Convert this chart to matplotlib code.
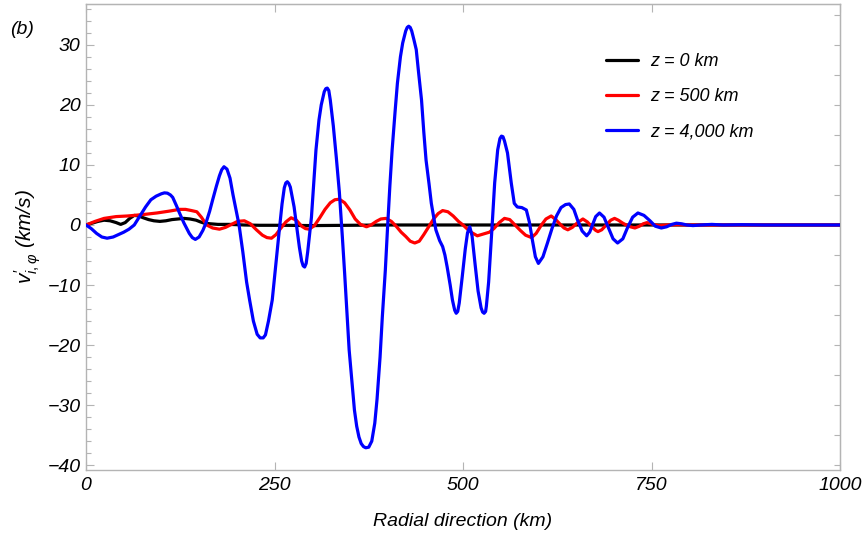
import matplotlib
matplotlib.use("Agg")
import matplotlib.pyplot as plt
from matplotlib.ticker import MultipleLocator
from matplotlib import font_manager

# ---------------- data ----------------
x_black = [0, 8, 16, 24, 32, 40, 46, 52, 58, 64, 70, 76, 83, 90, 98, 106, 114, 122, 130, 138,
           146, 152, 157, 165, 175, 190, 210, 230, 260, 300, 350, 400, 500, 1000]
y_black = [0, 0.3, 0.6, 0.8, 0.7, 0.4, 0.1, 0.4, 1.1, 1.6, 1.5, 1.2, 0.9, 0.7, 0.6, 0.7, 0.9, 1.0, 1.1, 1.0,
           0.8, 0.5, 0.3, 0.2, 0.1, 0.1, 0.0, -0.05, -0.05, -0.1, -0.05, 0.0, 0.0, 0.0]

x_red = [0, 12, 24, 40, 55, 64, 80, 94, 110, 124, 132, 140, 147, 153, 160, 168, 177, 185, 193, 201,
         210, 218, 226, 234, 240, 246, 252, 258, 265, 272, 279, 286, 291, 296, 303, 310, 317, 324, 330,
         336, 343, 350, 357, 364, 372, 378, 385, 391, 398, 405, 412, 418, 424, 430, 436, 442, 448, 455,
         461, 467, 473, 480, 487, 494, 500, 506, 512, 519, 527, 535, 541, 548, 555, 562, 569, 576, 583,
         591, 597, 604, 610, 617, 623, 629, 634, 639, 645, 652, 659, 665, 671, 676, 679, 684, 690, 696,
         701, 706, 712, 718, 722, 728, 734, 739, 744, 752, 760, 770, 785, 800, 1000]
y_red = [0, 0.6, 1.1, 1.4, 1.5, 1.6, 1.8, 2.0, 2.3, 2.6, 2.6, 2.4, 2.2, 1.3, 0.0, -0.5, -0.7, -0.4, 0.1, 0.6,
         0.7, 0.2, -0.8, -1.7, -2.1, -2.2, -1.6, -0.6, 0.5, 1.2, 0.8, -0.2, -0.6, -0.7, -0.1, 1.2, 2.6, 3.7, 4.2,
         4.3, 3.7, 2.5, 1.0, 0.1, -0.3, 0.0, 0.6, 1.0, 1.1, 0.6, -0.3, -1.2, -1.9, -2.7, -3.0, -2.7, -1.6, -0.2,
         1.0, 1.9, 2.4, 2.2, 1.5, 0.6, 0.0, -0.7, -1.3, -1.8, -1.5, -1.2, -0.6, 0.4, 1.1, 0.9, 0.0, -0.9, -1.7,
         -2.1, -1.4, 0.0, 1.0, 1.5, 0.9, 0.1, -0.5, -0.8, -0.4, 0.4, 1.0, 0.5, -0.3, -0.9, -1.1, -0.8, 0.0, 0.8,
         1.1, 0.8, 0.3, -0.1, -0.3, -0.5, -0.2, 0.2, 0.4, 0.1, -0.1, 0.0, 0.05, 0.0, 0.0]

x_blue = [0, 7, 14, 21, 28, 36, 43, 50, 57, 64, 72, 79, 86, 93, 100, 104, 108, 112, 115, 120, 124, 130,
          137, 141, 145, 150, 155, 159, 164, 168, 173, 177, 180, 183, 187, 191, 195, 199, 203, 208, 213, 217,
          222, 227, 231, 235, 238, 242, 247, 251, 256, 260, 263, 265, 267, 269, 271, 276, 280, 283, 286, 288,
          290, 292, 294, 299,
          302, 305, 309, 312, 316, 318, 320, 322, 324, 328, 332, 336, 340, 343, 346, 349, 353, 356, 359, 362,
          365, 368, 371, 375, 379,
          383, 386, 390, 393, 397, 400, 403, 406, 410, 413, 417, 420, 424, 426, 428, 430, 432, 435, 438, 441,
          445, 448,
          451, 455, 458, 464, 469, 473, 476, 479, 483, 486, 489, 491, 493, 495, 499, 503, 506, 509, 512, 516,
          520, 524, 526, 528, 530,
          531, 534, 538, 542, 546, 549, 551, 553, 555, 559, 564, 568, 572, 578, 584, 588, 592, 596, 600, 606,
          612,
          618, 624, 630, 636, 641, 647, 652, 658, 664, 668, 672, 676, 681, 687, 693, 699, 705, 712, 718, 725,
          732, 740, 748, 755, 763, 770, 777, 783, 790, 797, 805, 815, 830, 845, 870, 900, 1000]
y_blue = [0, -0.6, -1.4, -2.0, -2.2, -2.0, -1.6, -1.2, -0.7, 0.0, 1.6, 3.0, 4.2, 4.8, 5.2, 5.35, 5.3, 5.0, 4.6, 3.2,
          2.0, 0.3,
          -1.4, -2.1, -2.4, -2.0, -0.9, 0.3, 2.3, 4.2, 6.5, 8.2, 9.2, 9.7, 9.3, 7.8, 5.0, 2.5, 0.0, -4.5, -9.5, -12.5,
          -16.0, -18.2, -18.8, -18.8, -18.3, -16.0, -12.5, -7.5, -1.3, 3.5, 6.2, 7.0, 7.2, 6.9, 6.3, 3.0, -0.8, -3.7,
          -6.0, -6.8,
          -7.0, -6.4, -4.5, 1.3,
          7.0, 12.5, 17.5, 20.0, 22.2, 22.7, 22.8, 22.4, 20.8, 16.5, 11.2, 5.5, -2.0, -8.0, -14.5, -20.8, -26.5, -30.8,
          -33.5, -35.3,
          -36.4, -36.9, -37.1, -37.0, -36.0,
          -33.0, -29.0, -22.0, -15.3, -7.5, -0.3, 6.5, 12.5, 19.0, 23.6, 28.0, 30.3, 32.3, 32.9, 33.1, 32.9, 32.3,
          30.8, 29.2, 25.5,
          20.8, 15.5,
          10.8, 6.8, 3.6, -0.8, -2.6, -3.6, -5.0, -7.0, -10.0, -12.5, -14.2, -14.7, -14.4, -13.0, -8.6, -4.0, -1.3,
          -0.3, -1.8, -6.5,
          -11.0, -13.8, -14.5, -14.7, -14.4,
          -13.5, -9.5, -1.4, 7.0, 12.5, 14.4, 14.8, 14.7, 14.0, 12.0, 7.0, 3.6, 3.0, 2.9, 2.5, 0.5, -2.5, -5.3, -6.4,
          -5.3,
          -3.0,
          -0.6, 1.5, 2.9, 3.4, 3.5, 2.6, 0.8, -1.0, -1.8, -1.2, 0.1, 1.4, 2.0, 1.3, -0.5, -2.3, -3.0, -2.3, -0.5, 1.3,
          2.0, 1.6, 0.7, -0.2, -0.5, -0.3, 0.1, 0.3, 0.2, 0.0, -0.1, 0.0, 0.1, 0.0, 0.05, 0.0, 0.0]

labels = ["z = 0 km", "z = 500 km", "z = 4,000 km"]
x_ticks = [0, 250, 500, 750, 1000]
y_ticks = [-40, -30, -20, -10, 0, 10, 20, 30]

# ---------------- style ----------------
names = {f.name for f in font_manager.fontManager.ttflist}
narrow = "Liberation Sans Narrow" if "Liberation Sans Narrow" in names else "Liberation Sans"
plt.rcParams["font.family"] = ["Liberation Sans", "DejaVu Sans"]
plt.rcParams["mathtext.fontset"] = "custom"
plt.rcParams["mathtext.it"] = "Liberation Sans:italic"
plt.rcParams["mathtext.rm"] = "Liberation Sans"
plt.rcParams["mathtext.sf"] = "Liberation Sans"

fig = plt.figure(figsize=(8.65, 5.34), dpi=100)
ax = fig.add_axes([86 / 865, 1 - 470 / 534, (840 - 86) / 865, (470 - 4) / 534])

lw = 2.3
kw = dict(lw=lw, solid_joinstyle="round", solid_capstyle="round")
ax.plot(x_black, y_black, color="black", label=labels[0], zorder=3, **kw)
ax.plot(x_red, y_red, color="#ff0000", label=labels[1], zorder=4, **kw)
ax.plot(x_blue, y_blue, color="#0000ff", label=labels[2], zorder=5, **kw)

ax.set_xlim(0, 1000)
ax.set_ylim(-40.8, 36.8)

spine_c = "#b4b4b4"
for s in ax.spines.values():
    s.set_color(spine_c)
    s.set_linewidth(1.0)

ax.set_xticks(x_ticks)
ax.set_yticks(y_ticks)
ax.yaxis.set_minor_locator(MultipleLocator(2))
ax.tick_params(axis="both", which="both", direction="in", color=spine_c, width=0.8)
ax.tick_params(axis="both", which="major", length=6, labelsize=14, pad=3)
ax.tick_params(axis="y", which="minor", length=3.5)
ax.tick_params(axis="y", which="major", pad=4)
ax.tick_params(axis="x", which="major", pad=5)

ax.set_yticklabels([str(v).replace("-", "\u2212") for v in y_ticks], fontstyle="italic", fontsize=14)
ax.set_xticklabels([str(v) for v in x_ticks], fontstyle="italic", fontsize=14, family=narrow)

# top and right frame ticks
sx = ax.secondary_xaxis("top")
sx.set_xticks(x_ticks)
sx.tick_params(direction="in", length=6, color=spine_c, labeltop=False, width=0.8)
sx.spines["top"].set_color(spine_c)
sy = ax.secondary_yaxis("right")
sy.yaxis.set_major_locator(MultipleLocator(5))
sy.tick_params(direction="in", length=4, color=spine_c, labelright=False, width=0.8)
sy.spines["right"].set_color(spine_c)

ax.set_xlabel("Radial direction (km)", fontstyle="italic", fontsize=14, family=narrow, labelpad=14)
ax.set_ylabel(r"$v^{\prime}_{i,\varphi}$ (km/s)", fontstyle="italic", fontsize=15, labelpad=3)

fig.text(22 / 865, 1 - 30 / 534, "(b)", fontstyle="italic", fontsize=14, ha="center", va="center")

leg = ax.legend(loc="upper left", bbox_to_anchor=(606 / 865, 1 - 53 / 534), bbox_transform=fig.transFigure,
                frameon=False, fontsize=13, handlelength=1.75, labelspacing=1.0, handletextpad=0.7,
                borderpad=0, borderaxespad=0)
for t in leg.get_texts():
    t.set_fontstyle("italic")

fig.savefig("out.png", dpi=100)
